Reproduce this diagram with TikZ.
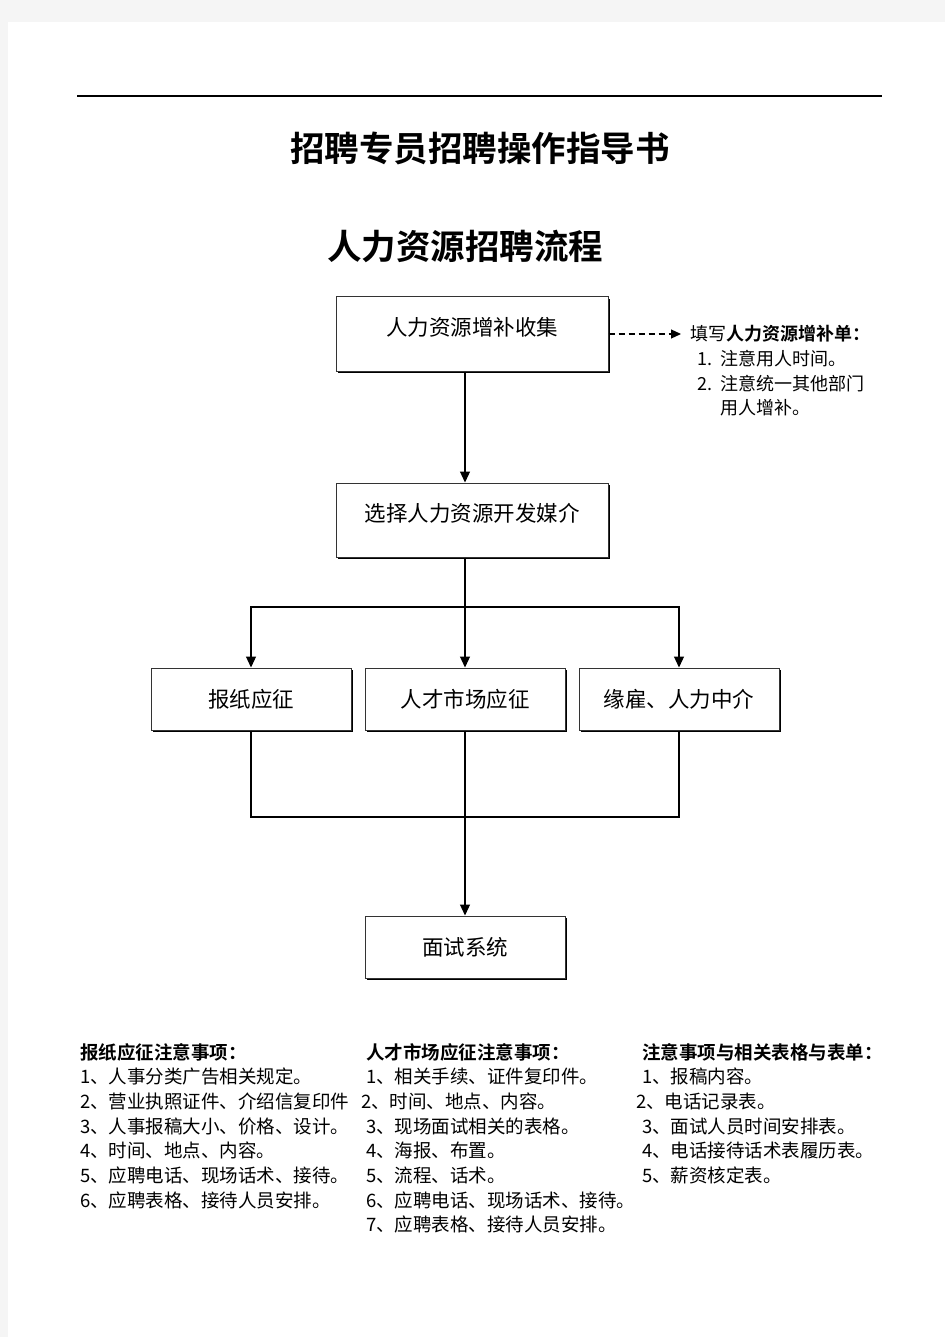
\documentclass[tikz,border=0pt]{standalone}
\usepackage{fontspec}
\setmainfont{Noto Sans CJK SC}[BoldFont={Noto Sans CJK SC Bold}]
\usetikzlibrary{arrows.meta,shadows}
\tikzset{
  flowbox/.style={draw=black!80, line width=1pt, fill=white, inner sep=0pt,
    drop shadow={shadow xshift=1.6pt, shadow yshift=-1.6pt, fill=black, opacity=1},
    font=\fontsize{21.5}{24}\selectfont},
  widebox/.style={flowbox, minimum width=272pt, minimum height=74pt, text depth=15.5pt},
  smallbox/.style={flowbox, minimum width=200pt, minimum height=62pt},
  link/.style={line width=1.2pt},
  arrowlink/.style={link, -{Triangle[length=11pt,width=10pt]}},
  dashlink/.style={link, dash pattern=on 6pt off 4pt, -{Triangle[length=10pt,width=9pt]}},
  notetext/.style={inner sep=0pt, anchor=base west, font=\fontsize{18.5}{22}\selectfont},
  titletext/.style={inner sep=0pt, font=\fontsize{34.5}{40}\selectfont\bfseries},
}
\begin{document}
\begin{tikzpicture}[x=1pt,y=-1pt]
  \useasboundingbox (0,0) rectangle (945,1337);
  \fill[black!4] (0,0) rectangle (945,1337);
  \fill[white] (8,22) rectangle (945,1337);
  \draw[line width=1.2pt] (77,96) -- (882,96);

  % titles
  \node[titletext] (doctitle) at (480,148) {招聘专员招聘操作指导书};
  \node[titletext] (flowtitle) at (465,246) {人力资源招聘流程};

  % flow boxes
  \coordinate (spine) at (465,0);
  \node[widebox] (collect) at (472,334) {人力资源增补收集};
  \node[widebox] (media) at (472,520) {选择人力资源开发媒介};
  \node[smallbox] (paper) at (251,699) {报纸应征};
  \node[smallbox] (market) at (465,699) {人才市场应征};
  \node[smallbox] (agency) at (679,699) {缘雇、人力中介};
  \node[smallbox] (interview) at (465,947) {面试系统};

  % connectors
  \draw[arrowlink] (collect.south -| spine) -- (media.north -| spine);
  \draw[arrowlink] (media.south -| spine) -- (market.north);
  \coordinate (split) at (465,607);
  \draw[arrowlink] (split) -| (paper.north);
  \draw[arrowlink] (split) -| (agency.north);
  \coordinate (merge) at (465,817);
  \draw[link] (paper.south) |- (merge) -| (agency.south);
  \draw[arrowlink] (market.south) -- (interview.north);

  % side note
  \coordinate (noteend) at (681,334);
  \draw[dashlink] (collect.east) -- (noteend);
  \node[notetext, font=\fontsize{18}{22}\selectfont] (notehead) at (690,340) {填写\textbf{人力资源增补单：}};
  \node[notetext, font=\fontsize{18}{22}\selectfont] (noteone) at (697,365) {\makebox[23pt][l]{1.}注意用人时间。};
  \node[notetext, font=\fontsize{18}{22}\selectfont] (notetwo) at (697,390) {\makebox[23pt][l]{2.}注意统一其他部门};
  \node[notetext, font=\fontsize{18}{22}\selectfont] (notethree) at (720,414) {用人增补。};

  % notes below
  \foreach \x/\t [count=\i from 0] in {80/\textbf{报纸应征注意事项：}, 80/1、人事分类广告相关规定。,
      80/2、营业执照证件、介绍信复印件, 80/3、人事报稿大小、价格、设计。, 80/4、时间、地点、内容。,
      80/5、应聘电话、现场话术、接待。, 80/6、应聘表格、接待人员安排。}
    \node[notetext] (papernote\i) at (\x,{1059+24.7*\i}) {\t};
  \foreach \x/\t [count=\i from 0] in {366/\textbf{人才市场应征注意事项：}, 366/1、相关手续、证件复印件。,
      361/2、时间、地点、内容。, 366/3、现场面试相关的表格。, 366/4、海报、布置。, 366/5、流程、话术。,
      366/6、应聘电话、现场话术、接待。, 366/7、应聘表格、接待人员安排。}
    \node[notetext] (marketnote\i) at (\x,{1059+24.7*\i}) {\t};
  \foreach \x/\t [count=\i from 0] in {642/\textbf{注意事项与相关表格与表单：}, 642/1、报稿内容。,
      636/2、电话记录表。, 642/3、面试人员时间安排表。, 642/4、电话接待话术表履历表。, 642/5、薪资核定表。}
    \node[notetext] (formnote\i) at (\x,{1059+24.7*\i}) {\t};
\end{tikzpicture}
\end{document}
